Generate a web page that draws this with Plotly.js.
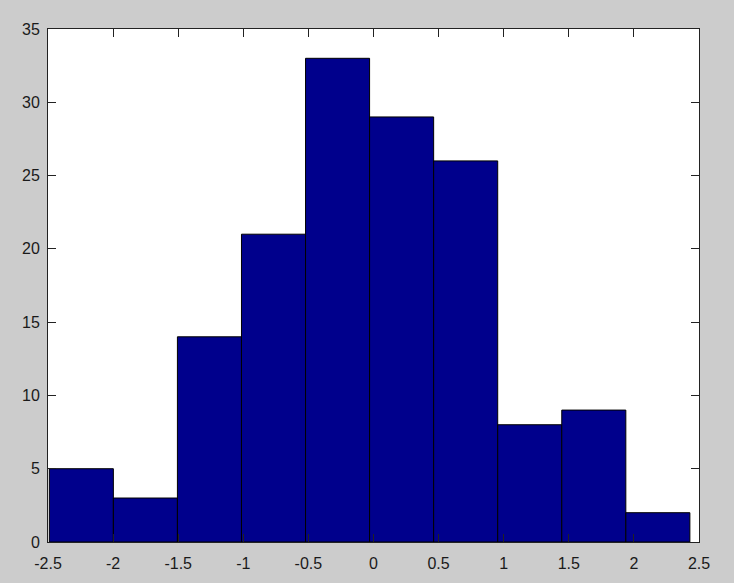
<!DOCTYPE html>
<html>
<head>
<meta charset="utf-8">
<script src="https://cdn.plot.ly/plotly-3.0.1.min.js"></script>
<style>html,body{margin:0;padding:0;background:#cccccc;}</style>
</head>
<body>
<div id="chart" style="width:734px;height:583px;"></div>
<script>
const binEdges = [-2.49, -1.998, -1.506, -1.014, -0.522, -0.03, 0.462, 0.954, 1.446, 1.938, 2.43];
const counts = [5, 3, 14, 21, 33, 29, 26, 8, 9, 2];
const xTickVals = [-2.5, -2, -1.5, -1, -0.5, 0, 0.5, 1, 1.5, 2, 2.5];
const xTickText = ['-2.5', '-2', '-1.5', '-1', '-0.5', '0', '0.5', '1', '1.5', '2', '2.5'];
const yTickVals = [0, 5, 10, 15, 20, 25, 30, 35];

const lefts = binEdges.slice(0, -1);
const widths = lefts.map((e, i) => binEdges[i + 1] - e);

const trace = {
  type: 'bar',
  x: lefts,
  y: counts,
  width: widths,
  offset: 0,
  marker: { color: '#00008C', line: { color: '#000000', width: 1 } },
  hoverinfo: 'x+y'
};

const axisCommon = {
  showline: true, linecolor: '#222222', linewidth: 1, mirror: 'ticks',
  ticks: 'inside', ticklen: 8, tickcolor: '#222222', tickwidth: 1,
  showgrid: false, zeroline: false,
  tickfont: { family: 'Liberation Sans, Arial, sans-serif', size: 16, color: '#1a1a1a' }
};

const layout = {
  width: 734, height: 583,
  margin: { l: 48, r: 35, t: 29, b: 41, pad: 0 },
  paper_bgcolor: '#cccccc', plot_bgcolor: '#ffffff',
  showlegend: false, bargap: 0,
  xaxis: Object.assign({}, axisCommon, { range: [-2.5, 2.5], tickvals: xTickVals, ticktext: xTickText, ticklabelstandoff: 7 }),
  yaxis: Object.assign({}, axisCommon, { range: [0, 35], tickvals: yTickVals, ticklabelstandoff: 4 })
};

Plotly.newPlot('chart', [trace], layout, { displayModeBar: false, staticPlot: true });
</script>
</body>
</html>
